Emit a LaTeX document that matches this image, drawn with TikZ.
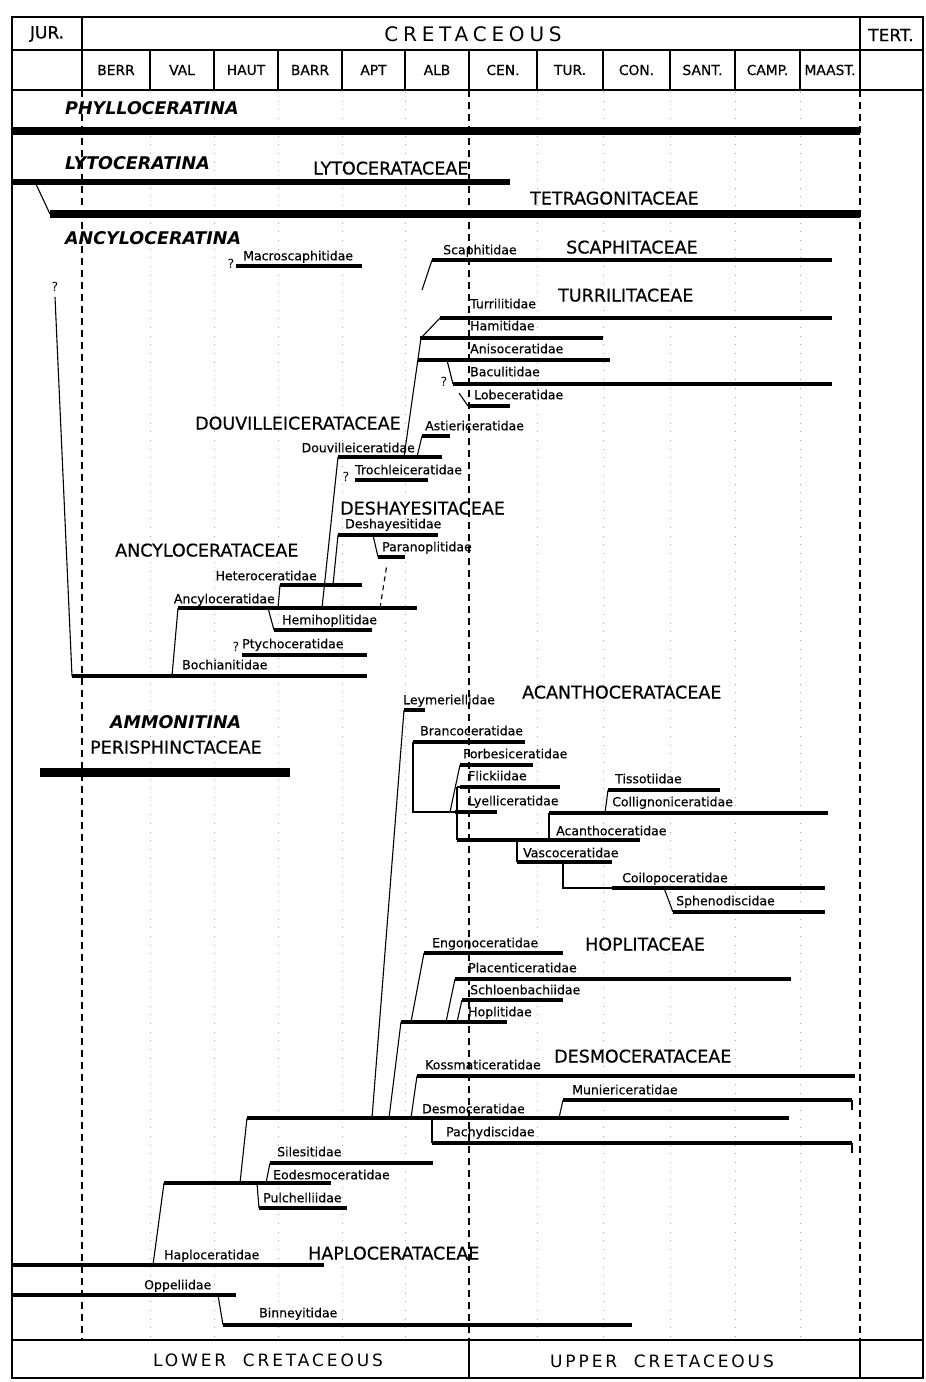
\documentclass[tikz,border=0pt]{standalone}
\usepackage{fontspec}
\setmainfont{DejaVu Sans}
\begin{document}
\begin{tikzpicture}[x=1pt,y=-1pt,
    boxline/.style={line width=1.3pt},
    kline/.style={line width=1.2pt,dash pattern=on 7pt off 5pt},
    stageline/.style={gray!70,line width=0.6pt,dash pattern=on 0.7pt off 8pt},
    fambar/.style={line width=4.5pt},
    branch/.style={line width=1.1pt},
    famlab/.style={font=\fontsize{12.5}{14}\selectfont\addfontfeature{FakeBold=0.4},
      anchor=west,inner sep=0pt,text height=9pt,text depth=2.5pt},
    qlab/.style={font=\fontsize{12.5}{14}\selectfont,inner sep=0pt},
    suplab/.style={font=\fontsize{17.5}{20}\selectfont\addfontfeature{FakeBold=0.5},
      anchor=west,inner sep=0pt,text height=13pt,text depth=0pt},
    ordlab/.style={font=\fontsize{17.5}{20}\selectfont\bfseries\itshape,anchor=west,
      inner sep=0pt,text height=13pt,text depth=0pt},
    headlab/.style={font=\fontsize{17}{20}\selectfont\addfontfeature{FakeBold=0.5},inner sep=0pt},
    cretlab/.style={font=\fontsize{20}{24}\selectfont\addfontfeature{LetterSpace=24}},
    stagelab/.style={font=\fontsize{13.8}{16}\selectfont\addfontfeature{FakeBold=0.5},inner sep=0pt},
    lowlab/.style={font=\fontsize{17}{20}\selectfont\addfontfeature{LetterSpace=17},inner sep=0pt}]
  \useasboundingbox (0,0) rectangle (926,1382);

  % time scale
  \draw[boxline] (12,17) rectangle (923,1378);
  \draw[boxline] (12,50) -- (923,50) (12,90) -- (923,90) (12,1340) -- (923,1340);
  \draw[boxline] (82,17) -- (82,90) (860,17) -- (860,90);
  \node[headlab] (jur) at (47,34) {JUR.};
  \node[headlab,cretlab] (cret) at (473,34) {CRETACEOUS};
  \node[headlab] (tert) at (891,35) {TERT.};
  \foreach \xa/\xb/\t [count=\i] in {82/150/BERR,150/214/VAL,214/278/HAUT,278/342/BARR,
      342/405/APT,405/469/ALB,469/537/CEN.,537/603/TUR.,603/670/CON.,670/735/SANT.,
      735/800/CAMP.,800/860/MAAST.} {
    \draw[boxline] (\xb,50) -- (\xb,90);
    \node[stagelab] (st\i) at ({(\xa+\xb)/2},70) {\t};
  }
  \foreach \x in {150,214,278,342,405,537,603,670,735,800}
    \draw[stageline] (\x,92) -- (\x,1338);
  \foreach \x in {82,469,860}
    \draw[kline] (\x,90) -- (\x,1340);
  \draw[boxline] (469,1340) -- (469,1378) (860,1340) -- (860,1378);
  \node[lowlab] (lower) at (268,1360) {LOWER~~CRETACEOUS};
  \node[lowlab] (upper) at (662,1361) {UPPER~~CRETACEOUS};

  % suborders
  \foreach \n/\xa/\xb/\y/\w in {phyllo/12/860/131/8.5,lyto/12/510/182/6.5,
      tetra/50/860/214/8.5,perisph/40/290/772/9} {
    \coordinate (\n-l) at (\xa,\y);
    \coordinate (\n-r) at (\xb,\y);
    \draw[line width=\w pt] (\n-l) -- (\n-r);
  }
  \node[ordlab] (phyllocer) at (65,108) {PHYLLOCERATINA};
  \node[ordlab] (lytocer) at (65,163) {LYTOCERATINA};
  \node[ordlab] (ancylocer) at (65,238) {ANCYLOCERATINA};
  \node[ordlab] (ammonit) at (110,722) {AMMONITINA};
  \draw[branch] (35,0 |- lyto-l) -- (tetra-l);

  % families
  \foreach \n/\xa/\xb/\y in {macro/236/362/266,scaph/432/832/260,turril/440/832/318,
      hamit/420/603/338,aniso/418/610/360,bacul/453/832/384,lobec/468/510/406,
      astier/422/450/436,douv/338/442/457,troch/355/428/480,desh/338/438/535,
      paran/378/405/557,heter/280/362/585,ancyl/178/417/608,hemih/274/372/630,
      ptych/242/367/655,bochi/72/367/676,
      leym/404/425/710,branc/413/525/742,forb/460/533/765,flick/460/560/787,
      lyell/455/497/812,tisso/608/720/790,colli/549/828/813,acanth/457/640/840,
      vasco/517/612/862,coilo/612/825/888,sphen/673/825/912,
      engon/424/563/953,place/455/791/979,schlo/462/563/1000,hopli/401/507/1022,
      kossm/417/855/1076,munie/563/852/1100,desmo/247/789/1118,pachy/432/852/1143,
      siles/270/433/1163,eodes/164/331/1183,pulch/259/347/1208,
      haplo/12/324/1265,oppel/12/236/1295,binne/223/632/1325} {
    \coordinate (\n-l) at (\xa,\y);
    \coordinate (\n-r) at (\xb,\y);
    \draw[fambar] (\n-l) -- (\n-r);
  }

  \foreach \n/\x/\y/\t in {macro/243/257/Macroscaphitidae,scaph/443/251/Scaphitidae,
      turril/470/305/Turrilitidae,hamit/470/327/Hamitidae,aniso/470/350/Anisoceratidae,
      bacul/470/373/Baculitidae,lobec/474/396/Lobeceratidae,
      astier/425/427/Astiericeratidae,troch/355/471/Trochleiceratidae,
      desh/345/525/Deshayesitidae,paran/382/548/Paranoplitidae,
      hemih/282/621/Hemihoplitidae,ptych/242/645/Ptychoceratidae,
      bochi/182/666/Bochianitidae,
      leym/403/701/Leymeriellidae,branc/420/732/Brancoceratidae,
      forb/463/755/Forbesiceratidae,flick/468/777/Flickiidae,
      lyell/468/802/Lyelliceratidae,tisso/615/780/Tissotiidae,
      colli/612/803/Collignoniceratidae,acanth/556/832/Acanthoceratidae,
      vasco/523/854/Vascoceratidae,coilo/622/879/Coilopoceratidae,
      sphen/676/902/Sphenodiscidae,
      engon/432/944/Engonoceratidae,place/468/969/Placenticeratidae,
      schlo/470/991/Schloenbachiidae,hopli/468/1013/Hoplitidae,
      kossm/425/1066/Kossmaticeratidae,munie/572/1091/Muniericeratidae,
      desmo/422/1110/Desmoceratidae,pachy/446/1133/Pachydiscidae,
      siles/277/1153/Silesitidae,eodes/273/1176/Eodesmoceratidae,
      pulch/263/1199/Pulchelliidae,
      haplo/164/1256/Haploceratidae,oppel/144/1286/Oppeliidae,
      binne/259/1314/Binneyitidae}
    \node[famlab] (t-\n) at (\x,\y) {\t};
  \node[famlab,anchor=east] (t-douv) at (415,449) {Douvilleiceratidae};
  \node[famlab,anchor=east] (t-heter) at (317,577) {Heteroceratidae};
  \node[famlab,anchor=east] (t-ancyl) at (275,600) {Ancyloceratidae};
  \foreach \x/\y [count=\i] in {55/287,231/264,444/382,346/477,236/647}
    \node[qlab] (q\i) at (\x,\y) {?};

  % superfamilies
  \foreach \n/\x/\y/\t in {lytoc/313/168/LYTOCERATACEAE,tetrag/530/198/TETRAGONITACEAE,
      scaphit/566/247/SCAPHITACEAE,turrilit/558/295/TURRILITACEAE,
      douvill/195/423/DOUVILLEICERATACEAE,deshay/340/508/DESHAYESITACEAE,
      ancylo/115/550/ANCYLOCERATACEAE,perisphi/90/747/PERISPHINCTACEAE,
      acantho/522/692/ACANTHOCERATACEAE,hoplit/585/944/HOPLITACEAE,
      desmoc/554/1056/DESMOCERATACEAE,haploc/308/1253/HAPLOCERATACEAE}
    \node[suplab] (\n) at (\x,\y) {\t};

  % Ancyloceratina
  \coordinate (stemtop) at (55,297);
  \draw[branch] (stemtop) -- (bochi-l);
  \draw[branch] (172,0 |- bochi-l) -- (ancyl-l);
  \draw[branch] (268,0 |- ancyl-l) -- (hemih-l);
  \draw[branch] (278,0 |- ancyl-l) -- (heter-l);
  \draw[branch] (322,0 |- ancyl-l) -- (douv-l);
  \draw[branch] (333,0 |- heter-l) -- (desh-l);
  \draw[branch] (373,0 |- desh-l) -- (paran-l);
  \coordinate (paranq) at (387,564);
  \draw[branch,dash pattern=on 5pt off 4pt] (380,0 |- ancyl-l) -- (paranq);
  \draw[branch] (417,0 |- douv-l) -- (astier-l);
  \draw[branch] (404,0 |- douv-l) -- (421,0 |- hamit-l) -- (turril-l);
  \draw[branch] (447,0 |- aniso-l) -- (bacul-l);
  \coordinate (lobecq) at (459,393);
  \draw[branch] (lobecq) -- (lobec-l);
  \coordinate (scaphq) at (422,290);
  \draw[branch] (scaph-l) -- (scaphq);

  % Acanthocerataceae
  \draw[branch] (372,0 |- desmo-l) -- (leym-l);
  \draw[branch] (branc-l) -- (branc-l |- lyell-l) -- (lyell-l);
  \draw[branch] (450,0 |- lyell-l) -- (forb-l);
  \draw[branch] (457,0 |- flick-l) -- (flick-l);
  \draw[branch] (457,0 |- flick-l) -- (acanth-l);
  \draw[branch] (605,0 |- colli-l) -- (tisso-l);
  \draw[branch] (colli-l) -- (colli-l |- acanth-l);
  \draw[branch] (vasco-l |- acanth-l) -- (vasco-l);
  \draw[branch] (563,0 |- vasco-l) -- (563,0 |- coilo-l) -- (coilo-l);
  \draw[branch] (664,0 |- coilo-l) -- (sphen-l);

  % Hoplitaceae, Desmocerataceae, Haplocerataceae
  \draw[branch] (389,0 |- desmo-l) -- (hopli-l);
  \draw[branch] (411,0 |- hopli-l) -- (engon-l);
  \draw[branch] (446,0 |- hopli-l) -- (place-l);
  \draw[branch] (457,0 |- hopli-l) -- (schlo-l);
  \draw[branch] (411,0 |- desmo-l) -- (kossm-l);
  \draw[branch] (559,0 |- desmo-l) -- (munie-l);
  \draw[branch] (pachy-l |- desmo-l) -- (pachy-l);
  \draw[branch] (munie-r) -- ++(0,10);
  \draw[branch] (pachy-r) -- ++(0,10);
  \draw[branch] (240,0 |- eodes-l) -- (desmo-l);
  \draw[branch] (266,0 |- eodes-l) -- (siles-l);
  \draw[branch] (257,0 |- eodes-l) -- (pulch-l);
  \draw[branch] (153,0 |- haplo-l) -- (eodes-l);
  \draw[branch] (218,0 |- oppel-l) -- (binne-l);
\end{tikzpicture}
\end{document}
